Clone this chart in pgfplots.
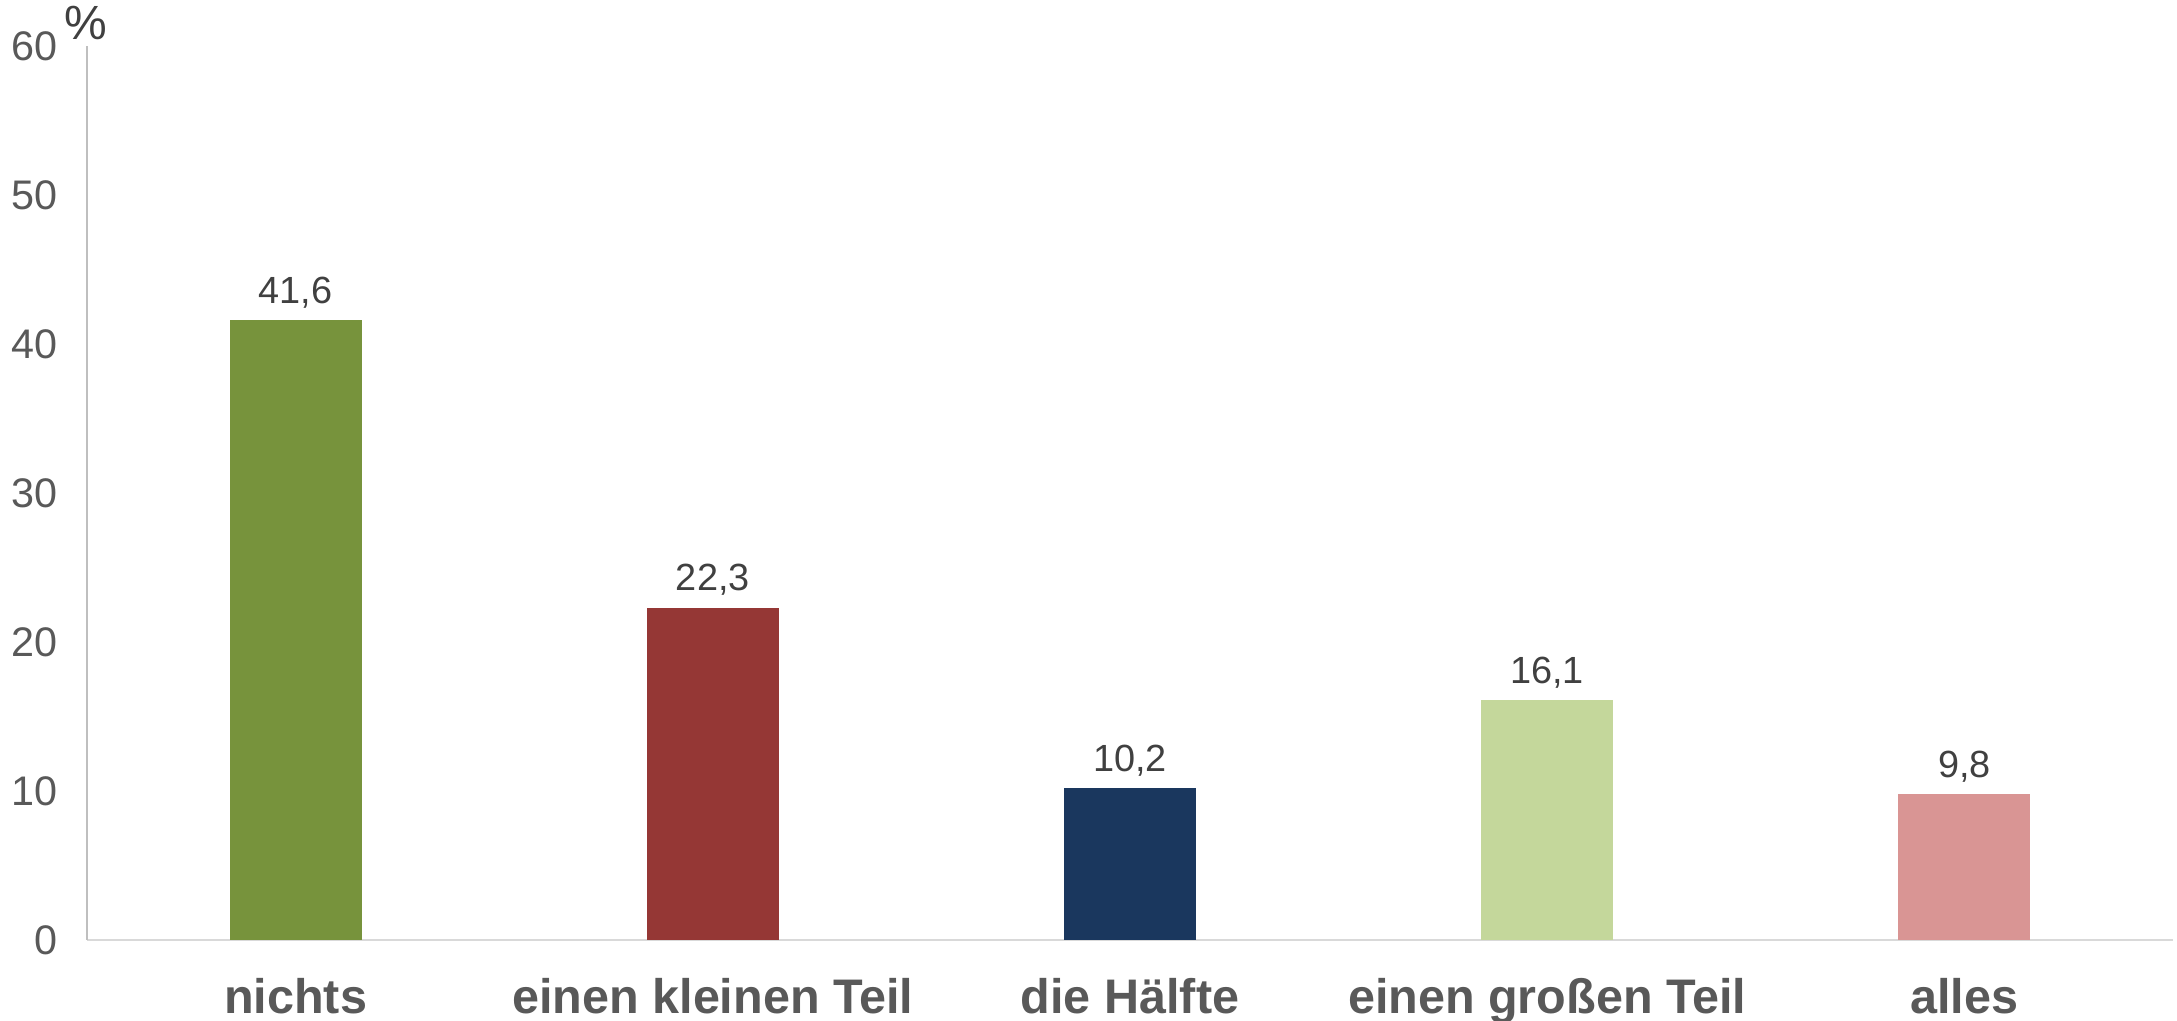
\documentclass[border=0pt]{standalone}
\usepackage{pgfplots}
\pgfplotsset{compat=1.18}
\usepackage{fontspec}
\setmainfont{Liberation Sans}
\definecolor{cGreen}{HTML}{77933C}
\definecolor{cRed}{HTML}{953735}
\definecolor{cNavy}{HTML}{1A375E}
\definecolor{cLGreen}{HTML}{C4D79B}
\definecolor{cPink}{HTML}{D99594}
\definecolor{ticktxt}{HTML}{595959}
\definecolor{valtxt}{HTML}{404040}
\definecolor{axisx}{HTML}{D9D9D9}
\definecolor{axisy}{HTML}{BFBFBF}
\begin{document}
\begin{tikzpicture}
\begin{axis}[
  scale only axis, width=782.25pt, height=335.25pt,
  xmin=-0.5, xmax=4.5, ymin=0, ymax=60,
  axis x line*=bottom, axis y line*=left,
  x axis line style={draw=axisx, line width=1pt},
  y axis line style={draw=axisy, line width=0.8pt},
  xtick={0,...,4},
  xticklabels={nichts, einen kleinen Teil, die Hälfte, einen großen Teil, alles},
  ytick={0,10,...,60},
  major tick length=0pt,
  tick style={draw=none},
  xticklabel style={anchor=base, inner sep=0pt, yshift=-27.4pt, font=\fontsize{18.2}{18.2}\selectfont\bfseries, text=ticktxt},
  yticklabel style={anchor=east, inner sep=0pt, xshift=-11pt, font=\fontsize{15.5}{15.5}\selectfont, text=ticktxt},
  /pgf/number format/assume math mode=true,
  nodes near coords,
  nodes near coords style={anchor=base, inner sep=0pt, yshift=6.3pt, font=\fontsize{14.2}{14.2}\selectfont, text=valtxt,
    /pgf/number format/.cd, use comma, fixed, fixed zerofill, precision=1, assume math mode=true},
  clip=false,
]
\addplot[ybar, bar width=49.5pt, bar shift=0pt, fill=cGreen, draw=none] coordinates {(0,41.6)};
\addplot[ybar, bar width=49.5pt, bar shift=0pt, fill=cRed, draw=none] coordinates {(1,22.3)};
\addplot[ybar, bar width=49.5pt, bar shift=0pt, fill=cNavy, draw=none] coordinates {(2,10.2)};
\addplot[ybar, bar width=49.5pt, bar shift=0pt, fill=cLGreen, draw=none] coordinates {(3,16.1)};
\addplot[ybar, bar width=49.5pt, bar shift=0pt, fill=cPink, draw=none] coordinates {(4,9.8)};
\coordinate (o) at (rel axis cs:0,0);
\node[anchor=base, inner sep=0pt, font=\fontsize{18}{18}\selectfont, text=valtxt] at ([xshift=-0.5pt, yshift=2.6pt]rel axis cs:0,1) {\%};
\end{axis}
\pgfresetboundingbox
\path (o) ++(-32.625pt,-30.375pt) rectangle ++(816.375pt,382.875pt);
\end{tikzpicture}
\end{document}
